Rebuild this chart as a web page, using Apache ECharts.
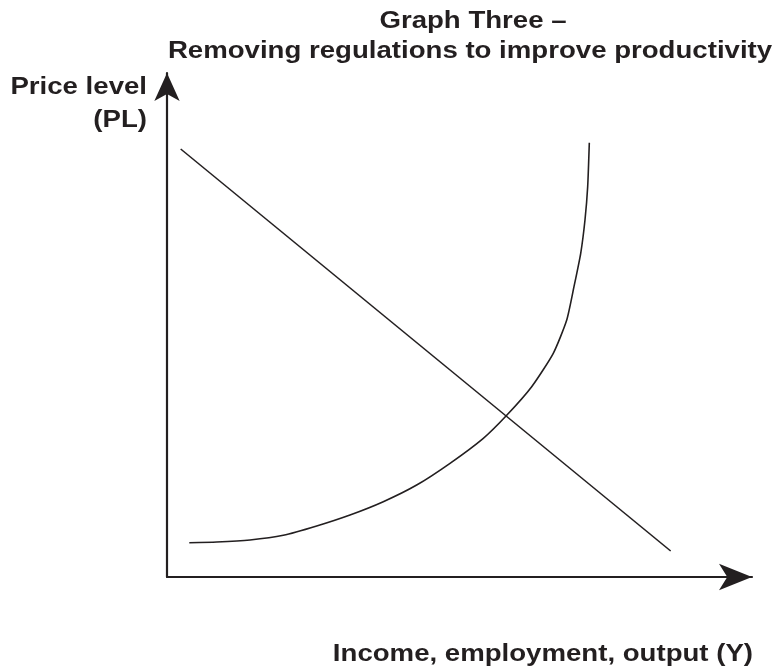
<!DOCTYPE html>
<html>
<head>
<meta charset="utf-8">
<script src="https://cdn.jsdelivr.net/npm/echarts@6/dist/echarts.min.js"></script>
<style>html,body{margin:0;padding:0;background:#fff;}#c{width:781px;height:671px;}</style>
</head>
<body>
<div id="c"></div>
<script>
// Text
const titleLines = ['Graph Three \u2013', 'Removing regulations to improve productivity'];
const yAxisLabelLines = ['Price level', '(PL)'];
const xAxisLabel = 'Income, employment, output (Y)';

// Aggregate demand (straight, downward sloping) – [Y, PL]
const adX = [2.34, 86.10];
const adY = [84.92, 5.16];

// Aggregate supply (curved, upward sloping) – [Y, PL]
const asX = [3.81, 8.50, 14.19, 19.88, 25.59, 31.28, 36.97, 42.68, 48.38, 54.07, 57.95, 62.34, 66.03, 68.33, 69.57, 70.72, 71.45, 71.91, 72.19];
const asY = [6.81, 6.94, 7.34, 8.27, 10.12, 12.30, 14.94, 18.25, 22.56, 27.52, 31.94, 37.76, 44.38, 50.99, 57.60, 64.23, 70.83, 77.44, 86.17];

const ink = '#231f20';
const fontFam = '"Liberation Sans", Arial, Helvetica, sans-serif';
const sx = 1.2;

function txt(str, x, y, align) {
  return {
    type: 'text', x: x, y: y, scaleX: sx, scaleY: 1, silent: true,
    style: {
      text: str, fill: ink, font: 'bold 23px ' + fontFam,
      align: align, textAlign: align, verticalAlign: 'middle', textVerticalAlign: 'middle'
    }
  };
}

const chart = echarts.init(document.getElementById('c'), null, {renderer: 'canvas'});
chart.setOption({
  animation: false,
  backgroundColor: '#fff',
  grid: {left: 167, right: 29, top: 73, bottom: 94, containLabel: false},
  xAxis: {
    type: 'value', min: 0, max: 100,
    axisLine: {show: true, symbol: ['none', 'arrow'], symbolSize: [20, 33], lineStyle: {color: ink, width: 2.2}},
    axisTick: {show: false}, axisLabel: {show: false}, splitLine: {show: false}
  },
  yAxis: {
    type: 'value', min: 0, max: 100,
    axisLine: {show: true, onZero: false, symbol: ['none', 'arrow'], symbolSize: [19, 28], lineStyle: {color: ink, width: 2.2}},
    axisTick: {show: false}, axisLabel: {show: false}, splitLine: {show: false}
  },
  series: [
    {
      type: 'line', name: 'AD', symbol: 'none', silent: true,
      data: adX.map((x, i) => [x, adY[i]]),
      lineStyle: {color: ink, width: 1.6}
    },
    {
      type: 'line', name: 'AS', symbol: 'none', silent: true, smooth: 0.2,
      data: asX.map((x, i) => [x, asY[i]]),
      lineStyle: {color: ink, width: 1.6, join: 'round'}
    }
  ],
  graphic: {
    elements: [
      txt(titleLines[0], 473, 22, 'center'),
      txt(titleLines[1], 470, 52, 'center'),
      txt(yAxisLabelLines[0], 147, 88, 'right'),
      txt(yAxisLabelLines[1], 147, 121, 'right'),
      txt(xAxisLabel, 753, 655, 'right')
    ]
  }
});
</script>
</body>
</html>
